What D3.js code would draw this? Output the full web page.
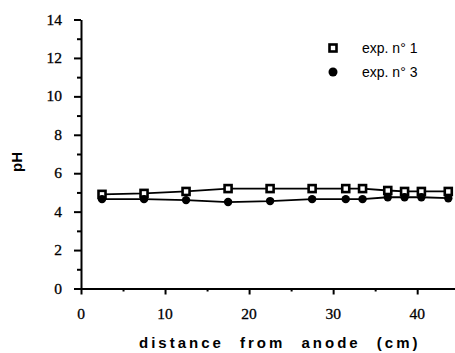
<!DOCTYPE html>
<html><head><meta charset="utf-8">
<script src="https://cdn.jsdelivr.net/npm/d3@7"></script>
<style>body{margin:0;background:#fff}svg{display:block}</style>
</head><body>
<svg id="c" width="455" height="353"></svg>
<script>
const distances = [2.5, 7.5, 12.5, 17.5, 22.5, 27.5, 31.5, 33.5, 36.5, 38.5, 40.5, 43.7];
const exp1 = [4.9, 4.95, 5.05, 5.2, 5.2, 5.2, 5.2, 5.2, 5.1, 5.05, 5.05, 5.05];
const exp3 = [4.65, 4.65, 4.6, 4.5, 4.55, 4.65, 4.65, 4.65, 4.75, 4.75, 4.75, 4.7];
const xTicks = [0, 10, 20, 30, 40];
const xMinor = [5, 15, 25, 35];
const yTicks = [0, 2, 4, 6, 8, 10, 12, 14];
const yMinor = [1, 3, 5, 7, 9, 11, 13];
const legendLabels = ["exp. n° 1", "exp. n° 3"];

const svg = d3.select("#c");
const x = d3.scaleLinear().domain([0, 44.5]).range([81, 455]);
const y = d3.scaleLinear().domain([0, 14]).range([288.5, 19.5]);

const sans = "Liberation Sans";
const serif = "Liberation Serif";

// axes
svg.append("g").attr("transform", `translate(0,${y(0)})`)
  .call(d3.axisBottom(x).tickValues(xTicks).tickSize(6).tickSizeOuter(0).tickFormat(""));
svg.append("g").attr("transform", `translate(0,${y(0)})`)
  .call(d3.axisBottom(x).tickValues(xMinor).tickSize(3).tickSizeOuter(0).tickFormat(""))
  .select(".domain").remove();
svg.append("g").attr("transform", `translate(${x(0)},0)`)
  .call(d3.axisLeft(y).tickValues(yTicks).tickSize(7).tickSizeOuter(0).tickFormat(""));
svg.append("g").attr("transform", `translate(${x(0)},0)`)
  .call(d3.axisLeft(y).tickValues(yMinor).tickSize(4).tickSizeOuter(0).tickFormat(""))
  .select(".domain").remove();
svg.selectAll(".domain").attr("stroke-width", 2).attr("stroke", "#000");
svg.selectAll(".tick line").attr("stroke-width", 2).attr("stroke", "#000");

svg.append("g").selectAll("text").data(xTicks).join("text")
  .attr("x", d => x(d)).attr("y", y(0) + 30).attr("text-anchor", "middle")
  .attr("font-family", serif).attr("font-size", 15.5)
  .attr("stroke", "#000").attr("stroke-width", 0.3).text(d => d);
svg.append("g").selectAll("text").data(yTicks).join("text")
  .attr("x", x(0) - 19).attr("y", d => y(d) + 5).attr("text-anchor", "end")
  .attr("font-family", serif).attr("font-size", 15.5)
  .attr("stroke", "#000").attr("stroke-width", 0.3).text(d => d);

// lines
const line = d3.line().x((d, i) => x(distances[i])).y(d => y(d));
[exp1, exp3].forEach(s => {
  svg.append("path").datum(s).attr("d", line).attr("fill", "none")
    .attr("stroke", "#000").attr("stroke-width", 1.8);
});

// markers
svg.append("g").selectAll("rect").data(exp1).join("rect")
  .attr("x", (d, i) => x(distances[i]) - 3.5).attr("y", d => y(d) - 3.5)
  .attr("width", 7).attr("height", 7).attr("fill", "#fff")
  .attr("stroke", "#000").attr("stroke-width", 2.6);
svg.append("g").selectAll("circle").data(exp3).join("circle")
  .attr("cx", (d, i) => x(distances[i])).attr("cy", d => y(d)).attr("r", 4.2)
  .attr("fill", "#000");

// legend
const lg = svg.append("g");
lg.append("rect").attr("x", 329.5).attr("y", 44.5).attr("width", 7).attr("height", 7)
  .attr("fill", "#fff").attr("stroke", "#000").attr("stroke-width", 2.6);
lg.append("circle").attr("cx", 333).attr("cy", 72).attr("r", 4.5).attr("fill", "#000");
lg.selectAll("text").data(legendLabels).join("text")
  .attr("x", 362).attr("y", (d, i) => 53 + i * 24)
  .attr("font-family", sans).attr("font-size", 14).text(d => d);

// axis titles
svg.append("text").attr("x", 139).attr("y", 348).attr("text-anchor", "start")
  .attr("font-family", sans).attr("font-weight", "bold").attr("font-size", 15)
  .attr("letter-spacing", 3).attr("word-spacing", 9)
  .text("distance from anode (cm)");
svg.append("text").attr("transform", "translate(22,162) rotate(-90)")
  .attr("text-anchor", "middle").attr("font-family", sans).attr("font-weight", "bold")
  .attr("font-size", 15).text("pH");
</script>
</body></html>
